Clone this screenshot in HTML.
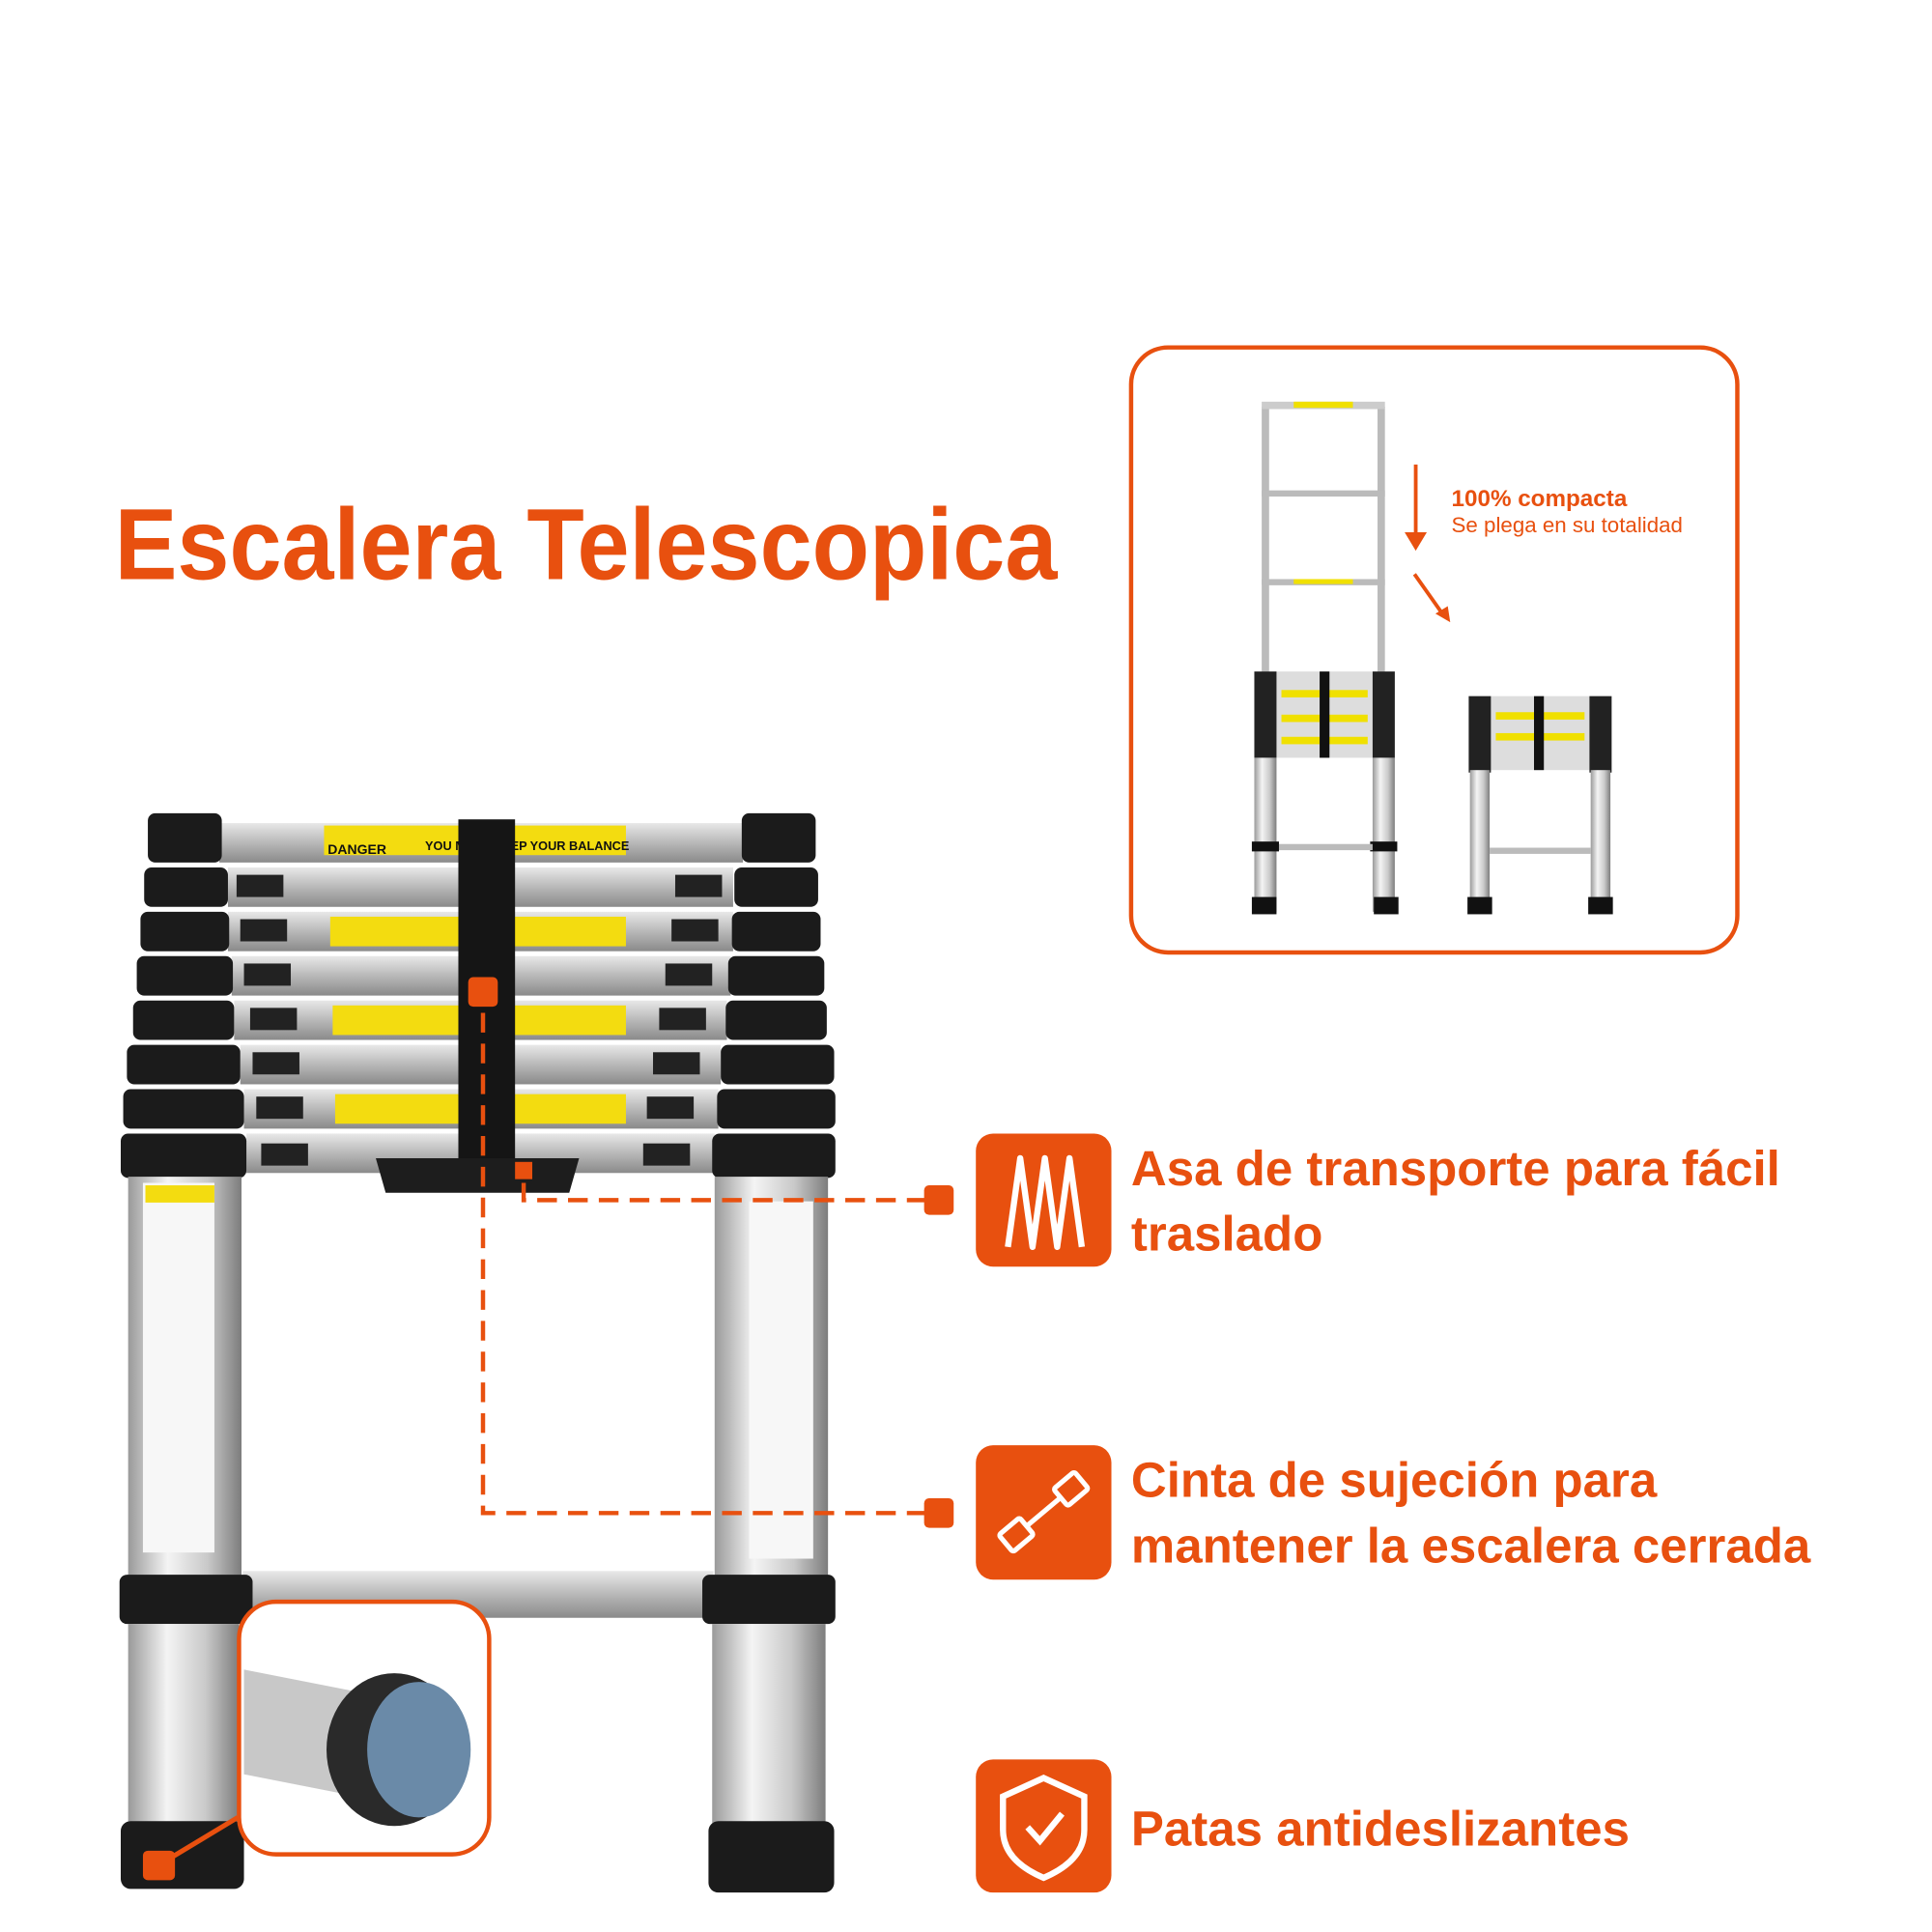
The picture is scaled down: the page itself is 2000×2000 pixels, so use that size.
<!DOCTYPE html>
<html><head><meta charset="utf-8"><style>
html,body{margin:0;padding:0;background:#fff;}
svg{display:block;}
text{font-family:"Liberation Sans",sans-serif;font-weight:bold;fill:#e8500f;}
</style></head><body>
<svg width="2000" height="2000" viewBox="0 0 1568 1568" xmlns="http://www.w3.org/2000/svg">
<defs>
<linearGradient id="al" x1="0" x2="1" y1="0" y2="0">
<stop offset="0" stop-color="#9a9a9a"/><stop offset="0.35" stop-color="#f4f4f4"/><stop offset="0.7" stop-color="#c9c9c9"/><stop offset="1" stop-color="#7d7d7d"/></linearGradient>
<linearGradient id="rung" x1="0" x2="0" y1="0" y2="1">
<stop offset="0" stop-color="#e8e8e8"/><stop offset="0.5" stop-color="#b8b8b8"/><stop offset="1" stop-color="#8a8a8a"/></linearGradient>
</defs>
<rect width="1568" height="1568" fill="#fff"/>
<text x="93" y="470" font-size="82" textLength="765" lengthAdjust="spacingAndGlyphs">Escalera Telescopica</text>

<!-- inset box -->
<rect x="918" y="282" width="492" height="491" rx="30" fill="none" stroke="#e8500f" stroke-width="3.5"/>
<g>
<rect x="1024" y="330" width="6" height="360" fill="#bbb"/><rect x="1118" y="330" width="6" height="360" fill="#bbb"/>
<rect x="1024" y="326" width="100" height="6" fill="#ccc"/><rect x="1050" y="326" width="48" height="5" fill="#f0e000"/>
<rect x="1024" y="398" width="100" height="5" fill="#bbb"/><rect x="1024" y="470" width="100" height="5" fill="#bbb"/><rect x="1050" y="470" width="48" height="4" fill="#f0e000"/>
<rect x="1018" y="545" width="114" height="70" fill="#ddd"/>
<rect x="1018" y="545" width="18" height="70" fill="#222"/><rect x="1114" y="545" width="18" height="70" fill="#222"/>
<rect x="1040" y="560" width="70" height="6" fill="#f0e000"/><rect x="1040" y="580" width="70" height="6" fill="#f0e000"/><rect x="1040" y="598" width="70" height="6" fill="#f0e000"/>
<rect x="1071" y="545" width="8" height="70" fill="#111"/>
<rect x="1018" y="615" width="18" height="125" fill="url(#al)"/><rect x="1114" y="615" width="18" height="125" fill="url(#al)"/>
<rect x="1016" y="683" width="22" height="8" fill="#111"/><rect x="1112" y="683" width="22" height="8" fill="#111"/>
<rect x="1016" y="728" width="20" height="14" fill="#111"/><rect x="1115" y="728" width="20" height="14" fill="#111"/>
<rect x="1038" y="685" width="76" height="5" fill="#bbb"/>
</g>
<g>
<rect x="1192" y="565" width="114" height="60" fill="#ddd"/>
<rect x="1192" y="565" width="18" height="62" fill="#222"/><rect x="1290" y="565" width="18" height="62" fill="#222"/>
<rect x="1214" y="578" width="72" height="6" fill="#f0e000"/><rect x="1214" y="595" width="72" height="6" fill="#f0e000"/>
<rect x="1245" y="565" width="8" height="60" fill="#111"/>
<rect x="1193" y="625" width="16" height="115" fill="url(#al)"/><rect x="1291" y="625" width="16" height="115" fill="url(#al)"/>
<rect x="1209" y="688" width="82" height="5" fill="#bbb"/>
<rect x="1191" y="728" width="20" height="14" fill="#111"/><rect x="1289" y="728" width="20" height="14" fill="#111"/>
</g>
<path d="M1149 377 V437" stroke="#e8500f" stroke-width="3"/><path d="M1140 432 L1149 447 L1158 432 Z" fill="#e8500f"/>
<path d="M1148 466 L1172 500" stroke="#e8500f" stroke-width="3"/><path d="M1165 498 L1177 505 L1175 492 Z" fill="#e8500f"/>
<text x="1178" y="411" font-size="19">100% compacta</text>
<text x="1178" y="432" font-size="17.5" style="font-weight:normal">Se plega en su totalidad</text>

<!-- big ladder -->
<g>
<rect x="178" y="668" width="425" height="32" fill="url(#rung)"/>
<rect x="263" y="670" width="245" height="24" fill="#f3dc10"/>
<text x="266" y="693" font-size="11" style="fill:#111">DANGER</text>
<text x="345" y="690" font-size="10" style="fill:#111">YOU MUST KEEP YOUR BALANCE</text>
<g fill="url(#rung)">
<rect x="185" y="704" width="410" height="32"/><rect x="185" y="740" width="410" height="32"/><rect x="188" y="776" width="405" height="32"/>
<rect x="190" y="812" width="400" height="32"/><rect x="195" y="848" width="390" height="32"/><rect x="198" y="884" width="385" height="32"/><rect x="200" y="920" width="380" height="32"/>
</g>
<g fill="#f3dc10"><rect x="268" y="744" width="240" height="24"/><rect x="270" y="816" width="238" height="24"/><rect x="272" y="888" width="236" height="24"/></g>
<g fill="#222">
<rect x="192" y="710" width="38" height="18"/><rect x="548" y="710" width="38" height="18"/>
<rect x="195" y="746" width="38" height="18"/><rect x="545" y="746" width="38" height="18"/>
<rect x="198" y="782" width="38" height="18"/><rect x="540" y="782" width="38" height="18"/>
<rect x="203" y="818" width="38" height="18"/><rect x="535" y="818" width="38" height="18"/>
<rect x="205" y="854" width="38" height="18"/><rect x="530" y="854" width="38" height="18"/>
<rect x="208" y="890" width="38" height="18"/><rect x="525" y="890" width="38" height="18"/>
<rect x="212" y="928" width="38" height="18"/><rect x="522" y="928" width="38" height="18"/>
</g>
<g fill="#1b1b1b">
<rect x="120" y="660" width="60" height="40" rx="6"/><rect x="602" y="660" width="60" height="40" rx="6"/>
<rect x="117" y="704" width="68" height="32" rx="6"/><rect x="596" y="704" width="68" height="32" rx="6"/>
<rect x="114" y="740" width="72" height="32" rx="6"/><rect x="594" y="740" width="72" height="32" rx="6"/>
<rect x="111" y="776" width="78" height="32" rx="6"/><rect x="591" y="776" width="78" height="32" rx="6"/>
<rect x="108" y="812" width="82" height="32" rx="6"/><rect x="589" y="812" width="82" height="32" rx="6"/>
<rect x="103" y="848" width="92" height="32" rx="6"/><rect x="585" y="848" width="92" height="32" rx="6"/>
<rect x="100" y="884" width="98" height="32" rx="6"/><rect x="582" y="884" width="96" height="32" rx="6"/>
<rect x="98" y="920" width="102" height="36" rx="6"/><rect x="578" y="920" width="100" height="36" rx="6"/>
</g>
<rect x="372" y="665" width="46" height="280" fill="#151515"/>
<path d="M305 940 H470 L462 968 H313 Z" fill="#1d1d1d"/>
<rect x="104" y="955" width="92" height="325" fill="url(#al)"/>
<rect x="116" y="960" width="58" height="300" fill="#f7f7f7"/>
<rect x="118" y="962" width="56" height="14" fill="#f3dc10"/>
<rect x="580" y="955" width="92" height="325" fill="url(#al)"/>
<rect x="608" y="975" width="52" height="290" fill="#f7f7f7"/>
<rect x="197" y="1275" width="382" height="38" fill="url(#rung)"/>
<rect x="97" y="1278" width="108" height="40" rx="6" fill="#1b1b1b"/>
<rect x="570" y="1278" width="108" height="40" rx="6" fill="#1b1b1b"/>
<rect x="104" y="1318" width="90" height="165" fill="url(#al)"/>
<rect x="578" y="1318" width="92" height="165" fill="url(#al)"/>
<rect x="98" y="1478" width="100" height="55" rx="8" fill="#1b1b1b"/>
<rect x="575" y="1478" width="102" height="58" rx="8" fill="#1b1b1b"/>
</g>
<rect x="194" y="1300" width="203" height="205" rx="30" fill="#fff" stroke="#e8500f" stroke-width="3.5"/>
<path d="M198 1355 L300 1375 L300 1460 L198 1440 Z" fill="#c8c8c8"/>
<ellipse cx="320" cy="1420" rx="55" ry="62" fill="#2a2a2a"/>
<ellipse cx="340" cy="1420" rx="42" ry="55" fill="#6a8aa8"/>
<path d="M193 1475 L130 1513" stroke="#e8500f" stroke-width="4"/>
<rect x="116" y="1502" width="26" height="24" rx="4" fill="#e8500f"/>

<g stroke="#e8500f" stroke-width="3.5" fill="none" stroke-dasharray="16 9">
<path d="M752 974 H425 V948"/>
<path d="M752 1228 H392 V805"/>
</g>
<rect x="750" y="962" width="24" height="24" rx="4" fill="#e8500f"/>
<rect x="750" y="1216" width="24" height="24" rx="4" fill="#e8500f"/>
<rect x="380" y="793" width="24" height="24" rx="4" fill="#e8500f"/>
<rect x="418" y="943" width="14" height="14" fill="#e8500f"/>

<rect x="792" y="920" width="110" height="108" rx="14" fill="#e8500f"/>
<path d="M818 1012 L828 940 L838 1012 L848 940 L858 1012 L868 940 L878 1012" stroke="#fff" stroke-width="5" fill="none" stroke-linejoin="round"/>
<text x="918" y="962" font-size="40">Asa de transporte para fácil</text>
<text x="918" y="1015" font-size="40">traslado</text>

<rect x="792" y="1173" width="110" height="109" rx="14" fill="#e8500f"/>
<g transform="translate(847 1227) rotate(-40)" stroke="#fff" stroke-width="4" fill="none">
<rect x="-40" y="-9" width="22" height="18" rx="2"/><rect x="18" y="-9" width="22" height="18" rx="2"/>
<path d="M-18 0 H18"/></g>
<text x="918" y="1215" font-size="40">Cinta de sujeción para</text>
<text x="918" y="1268" font-size="40">mantener la escalera cerrada</text>

<rect x="792" y="1428" width="110" height="108" rx="14" fill="#e8500f"/>
<path d="M847 1443 L880 1458 V1485 Q880 1510 847 1524 Q814 1510 814 1485 V1458 Z" stroke="#fff" stroke-width="5" fill="none"/>
<path d="M834 1483 L844 1494 L862 1472" stroke="#fff" stroke-width="5" fill="none"/>
<text x="918" y="1498" font-size="40">Patas antideslizantes</text>
</svg>
</body></html>
